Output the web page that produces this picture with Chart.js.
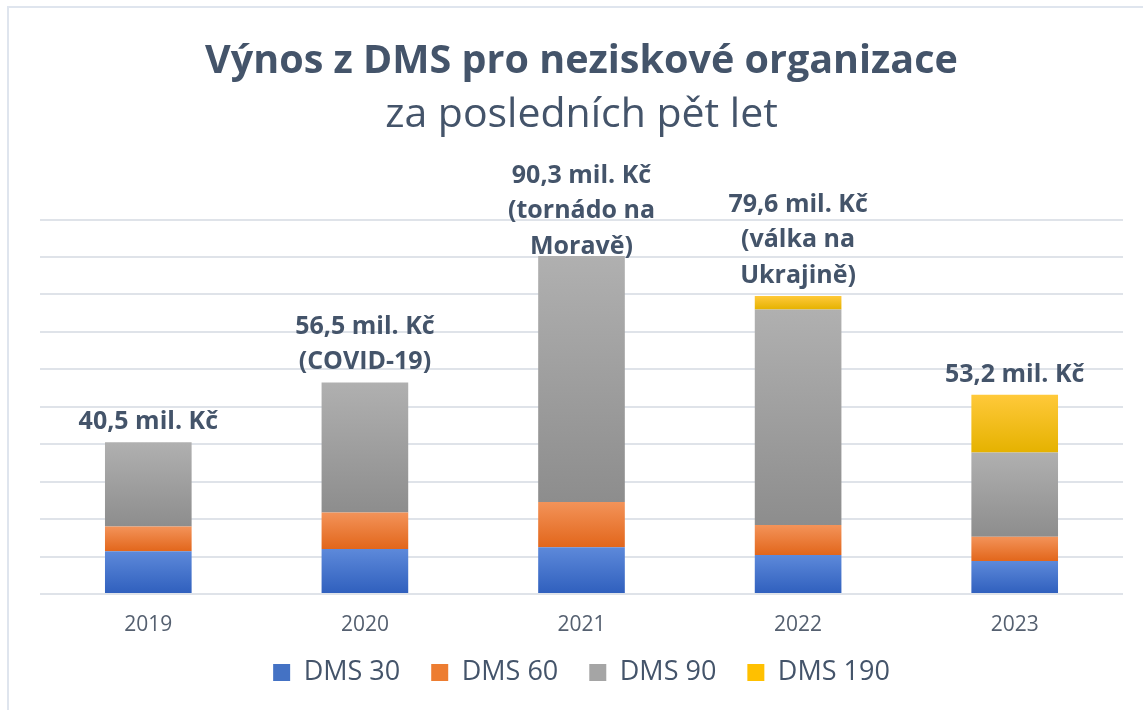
<!DOCTYPE html>
<html lang="cs">
<head>
<meta charset="utf-8">
<title>Výnos z DMS pro neziskové organizace</title>
<script src="https://cdn.jsdelivr.net/npm/chart.js@4.4.1/dist/chart.umd.min.js"></script>
<style>
  html, body { margin: 0; padding: 0; background: #fff; overflow: hidden; }
  .frame { position: absolute; left: 7px; top: 6px; width: 1200px; height: 760px; border: 2px solid #dfe5ee; box-sizing: border-box; }
  .wrap { position: absolute; left: 0; top: 0; width: 1143px; height: 710px; }
</style>
</head>
<body>
<div class="frame"></div>
<div class="wrap"><canvas id="chart"></canvas></div>
<script>
// values in mil. Kč
const years = ['2019', '2020', '2021', '2022', '2023'];
const dms30 = [11.4, 12.0, 12.5, 10.4, 8.8];
const dms60 = [6.6, 9.8, 12.1, 8.0, 6.5];
const dms90 = [22.5, 34.7, 65.7, 57.6, 22.5];
const dms190 = [0, 0, 0, 3.6, 15.4];
const seriesNames = ['DMS 30', 'DMS 60', 'DMS 90', 'DMS 190'];
const totalLabels = [
    ['40,5 mil. Kč'],
    ['56,5 mil. Kč', '(COVID-19)'],
    ['90,3 mil. Kč', '(tornádo na', 'Moravě)'],
    ['79,6 mil. Kč', '(válka na', 'Ukrajině)'],
    ['53,2 mil. Kč']
];

const textColor = '#44546a';
const legendColors = ['#4472c4', '#ed7d31', '#a5a5a5', '#ffc000'];

// vertical gradient per bar segment, like the Office fill
function gradientFill(topColor, bottomColor, below) {
    return (context) => {
        if (context.type !== 'data') return bottomColor;
        const chart = context.chart;
        const y = chart.scales.y;
        if (!y) return bottomColor;
        const i = context.dataIndex;
        const base = below.reduce((s, arr) => s + arr[i], 0);
        const y0 = y.getPixelForValue(base);
        const y1 = y.getPixelForValue(base + context.raw);
        if (!isFinite(y0) || !isFinite(y1) || y0 === y1) return bottomColor;
        const g = chart.ctx.createLinearGradient(0, y1, 0, y0);
        g.addColorStop(0, topColor);
        g.addColorStop(1, bottomColor);
        return g;
    };
}

const totalsPlugin = {
    id: 'totals',
    afterDatasetsDraw(chart) {
        const { ctx, chartArea } = chart;
        const meta = chart.getDatasetMeta(chart.data.datasets.length - 1);
        ctx.save();
        ctx.font = 'bold 25px "Open Sans"';
        ctx.fillStyle = textColor;
        ctx.textAlign = 'center';
        ctx.textBaseline = 'alphabetic';
        meta.data.forEach((bar, i) => {
            const lines = totalLabels[i];
            let first = bar.y - 13 - (lines.length - 1) * 35.5;
            first = Math.max(first, chartArea.top - 37);
            lines.forEach((t, k) => ctx.fillText(t, bar.x, first + k * 35.5));
        });
        ctx.restore();
    }
};

// legend padding is wide for the horizontal gaps, pull the row up a bit
const legendNudge = {
    id: 'legendNudge',
    afterLayout(chart) {
        if (chart.legend) {
            chart.legend.top -= 9;
            chart.legend.bottom -= 9;
        }
    }
};

Chart.defaults.font.family = '"Open Sans", sans-serif';

const ctx = document.getElementById('chart');
new Chart(ctx, {
    type: 'bar',
    data: {
        labels: years,
        datasets: [
            { label: seriesNames[0], data: dms30, backgroundColor: gradientFill('#5d89da', '#2f5fbd', []) },
            { label: seriesNames[1], data: dms60, backgroundColor: gradientFill('#f39359', '#e2661b', [dms30]) },
            { label: seriesNames[2], data: dms90, backgroundColor: gradientFill('#b0b0b0', '#8d8d8d', [dms30, dms60]) },
            { label: seriesNames[3], data: dms190, backgroundColor: gradientFill('#ffc93a', '#e5b200', [dms30, dms60, dms90]) }
        ]
    },
    options: {
        responsive: true,
        maintainAspectRatio: false,
        animation: false,
        layout: { padding: { top: 10, left: 40, right: 20, bottom: 5 } },
        datasets: { bar: { categoryPercentage: 1, barPercentage: 0.4, borderWidth: 0 } },
        scales: {
            x: {
                stacked: true,
                grid: { display: false, drawTicks: false },
                border: { display: false },
                ticks: { color: '#556070', font: { size: 21 }, padding: 18 },
                afterFit: (scale) => { scale.height = 43; }
            },
            y: {
                stacked: true,
                min: 0,
                max: 100,
                ticks: { display: false, stepSize: 10 },
                grid: { color: '#dfe3e9', lineWidth: 2, drawTicks: false },
                border: { display: false }
            }
        },
        plugins: {
            title: {
                display: true,
                text: 'Výnos z DMS pro neziskové organizace',
                color: textColor,
                font: { size: 39.5, weight: 'bold' },
                padding: { top: 28, bottom: 0 }
            },
            subtitle: {
                display: true,
                text: 'za posledních pět let',
                color: textColor,
                font: { size: 41, weight: 'normal' },
                padding: { top: 5, bottom: 80 }
            },
            legend: {
                position: 'bottom',
                labels: {
                    boxWidth: 17,
                    boxHeight: 17,
                    padding: 31,
                    color: textColor,
                    font: { size: 27 },
                    generateLabels: (chart) => chart.data.datasets.map((ds, i) => ({
                        text: ds.label,
                        fillStyle: legendColors[i],
                        strokeStyle: legendColors[i],
                        lineWidth: 0,
                        hidden: false,
                        datasetIndex: i,
                        fontColor: textColor
                    }))
                }
            },
            tooltip: { enabled: false }
        }
    },
    plugins: [totalsPlugin, legendNudge]
});
</script>
</body>
</html>
